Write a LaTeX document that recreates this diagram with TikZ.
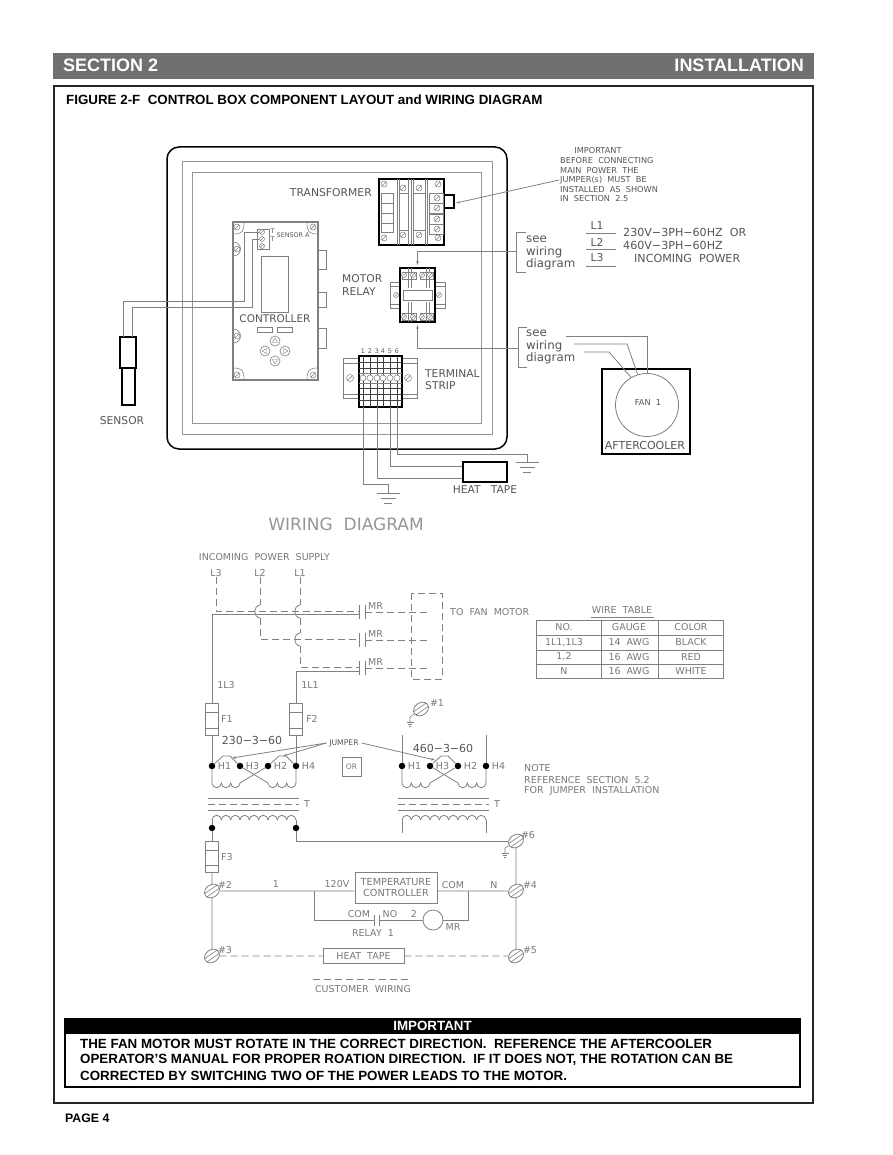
\documentclass[tikz,border=0pt]{standalone}
\usepackage{fontspec}
\setmainfont{Liberation Sans}
\newfontfamily\cadfont{DejaVu Sans}
\usetikzlibrary{arrows.meta,shapes.geometric}
\definecolor{headgray}{RGB}{112,112,112}
\definecolor{wiregray}{RGB}{128,128,128}
\definecolor{cadgray}{RGB}{85,85,85}
\definecolor{palegray}{RGB}{150,150,150}
\tikzset{
  wire/.style={draw=wiregray, line width=0.8pt},
  dashwire/.style={draw=wiregray, line width=0.8pt, dash pattern=on 7pt off 4pt},
  heavy/.style={draw=black, line width=1.5pt},
  thinpart/.style={draw=wiregray, line width=0.6pt},
  smalltip/.style={-{Stealth[length=4pt,width=2.5pt]}},
  cadlabel/.style={font=\cadfont\fontsize{10.7}{12}\selectfont, text=cadgray, inner sep=0pt},
  cadsmall/.style={font=\cadfont\fontsize{8.2}{10}\selectfont, text=cadgray, inner sep=0pt},
  cadtiny/.style={font=\cadfont\fontsize{6.4}{7}\selectfont, text=cadgray, inner sep=0pt},
  wirelabel/.style={font=\cadfont\fontsize{9.5}{11}\selectfont, text=palegray!80!black, inner sep=0pt},
  boldpage/.style={font=\bfseries\fontsize{13.35}{15}\selectfont, text=black, inner sep=0pt},
  headtext/.style={font=\bfseries\fontsize{18}{20}\selectfont, text=white, inner sep=0pt},
  partbox/.style={rectangle, fill=white, inner sep=0pt},
  fusebox/.style={rectangle, wire, fill=white, inner sep=0pt, minimum width=13pt, minimum height=32pt,
    path picture={\draw[wiregray,line width=0.7pt]
      ([yshift=-9pt]path picture bounding box.north west) -- ([yshift=-9pt]path picture bounding box.north east)
      ([yshift=7pt]path picture bounding box.south west) -- ([yshift=7pt]path picture bounding box.south east);}},
  hdot/.style={circle, fill=black, inner sep=0pt, minimum size=6.5pt},
  smallscrew/.style={circle, draw=wiregray, line width=0.5pt, fill=white, inner sep=0pt, minimum size=6pt,
    path picture={\draw[wiregray,line width=0.4pt] (path picture bounding box.south west) -- (path picture bounding box.north east);}},
  bigscrew/.style={ellipse, rotate=35, wire, fill=white, inner sep=0pt, minimum width=16pt, minimum height=12.5pt,
    path picture={\draw[wiregray,line width=0.6pt]
      ([shift={(-8pt,2pt)}]path picture bounding box.center) -- ([shift={(8pt,2pt)}]path picture bounding box.center)
      ([shift={(-8pt,-2pt)}]path picture bounding box.center) -- ([shift={(8pt,-2pt)}]path picture bounding box.center);}},
  earth/.pic={\draw[wire] (-11.5,0) -- (11.5,0) (-7.5,5.5) -- (7.5,5.5) (-4,10) -- (4,10);},
  minearth/.pic={\draw[thinpart] (-3.5,0) -- (3.5,0) (-2.3,2) -- (2.3,2) (-1,4) -- (1,4);},
}
\begin{document}
\begin{tikzpicture}[x=1pt,y=-1pt]
\useasboundingbox (0,0) rectangle (892,1155);

% Page header and frame
\node[fill=headgray, inner sep=0pt, minimum width=761pt, minimum height=26pt] (headbar) at (433.5,66) {};
\node[headtext, anchor=west] (headleft) at (63,65) {SECTION 2};
\node[headtext, anchor=east] (headright) at (804,65) {INSTALLATION};
\draw[draw=black!85, line width=1.2pt] (54,86) rectangle (813,1103);
\node[boldpage, anchor=west] (figtitle) at (66,100) {FIGURE 2-F\ \ CONTROL BOX COMPONENT LAYOUT and WIRING DIAGRAM};

% Enclosure
\draw[heavy, rounded corners=12pt] (167,147) rectangle (507,449);
\draw[draw=palegray, line width=1pt] (182,162) rectangle (492,434);
\draw[draw=palegray, line width=1pt] (192,173) rectangle (481,423);

% Controller
\draw[draw=wiregray, line width=1.3pt] (233,222) rectangle (318,380);
\foreach \a/\b in {250/269,292/307,328/348}{
  \draw[thinpart] (318,\a) -- (326,\a) -- (326,\b) -- (318,\b);
}
\draw[thinpart] (233,242) .. controls (243,242) and (243,256) .. (233,256);
\draw[thinpart] (233,329) .. controls (243,329) and (243,343) .. (233,343);
\draw[thinpart] (244,222) .. controls (244,232) and (242,234) .. (233,234);
\draw[thinpart] (307,222) .. controls (307,232) and (309,234) .. (318,234);
\draw[thinpart] (244,380) .. controls (244,370) and (242,368) .. (233,368);
\draw[thinpart] (307,380) .. controls (307,370) and (309,368) .. (318,368);
\foreach \n/\p in {a/{237,227},b/{313,227},c/{237,375},d/{313,375},e/{237,249},f/{237,336}}{
  \node[smallscrew] (cs\n) at (\p) {};
}
\node[partbox, draw=wiregray, line width=0.6pt, minimum width=12pt, minimum height=20pt] (cterm) at (263,239) {};
\foreach \n/\y in {1/232,2/239,3/246}{
  \node[smallscrew, minimum size=5pt] (ct\n) at (262,\y) {};
}
\node[cadtiny] (tone) at (272.5,231.5) {T};
\node[cadtiny] (ttwo) at (272.5,239) {T};
\node[cadtiny, anchor=west] (sensa) at (276.5,235) {SENSOR A};
\node[partbox, draw=wiregray, line width=0.6pt, minimum width=27pt, minimum height=56pt] (cdisplay) at (274.5,284) {};
\node[cadlabel, font=\cadfont\fontsize{10.5}{12}\selectfont] (ctrllbl) at (275,319) {CONTROLLER};
\node[draw=wiregray, line width=0.6pt, inner sep=0pt, minimum width=15pt, minimum height=5pt] (cleda) at (265,329.5) {};
\node[draw=wiregray, line width=0.6pt, inner sep=0pt, minimum width=15pt, minimum height=5pt] (cledb) at (284.5,329.5) {};
\foreach \n/\p/\r in {up/{275,341}/0,lf/{265,351}/90,rt/{285,351}/-90,dn/{275,361}/180}{
  \node[circle, draw=wiregray, line width=0.6pt, inner sep=0pt, minimum size=10pt] (btn\n) at (\p) {};
  \node[regular polygon, regular polygon sides=3, rotate=\r, draw=wiregray, line width=0.4pt, inner sep=0pt, minimum size=6pt] (tri\n) at (\p) {};
}

% Sensor
\node[partbox, draw=black, line width=1.1pt, minimum width=13pt, minimum height=39pt] (senstail) at (128.5,385.5) {};
\node[partbox, draw=black, line width=1.3pt, minimum width=16pt, minimum height=31pt] (sensbody) at (128,352.5) {};
\node[cadlabel] (senslbl) at (122,421) {SENSOR};
\coordinate (sw1) at (123,337);
\coordinate (sw2) at (132,337);
\draw[wire] (ct1.west) -- (244,232) -- (244,301) -- (123,301) -- (sw1);
\draw[wire] (ct2.west) -- (252,239) -- (252,307) -- (132,307) -- (sw2);

% Transformer
\node[partbox, heavy, minimum width=65pt, minimum height=66pt] (xfmr) at (411.5,212) {};
\draw[thinpart] (397,179) -- (397,245) (399,179) -- (399,245) (408,179) -- (408,245) (411,179) -- (411,245)
  (413,179) -- (413,245) (425,179) -- (425,245) (427,179) -- (427,245);
\draw[thinpart] (381,193) rectangle (393,232) (381,203) -- (393,203) (381,213) -- (393,213) (381,223) -- (393,223);
\draw[thinpart] (399,193) -- (408,193) (399,230) -- (408,230) (413,193) -- (425,193) (413,230) -- (425,230);
\foreach \y in {193,203,214,224}{
  \draw[thinpart] (429,\y) rectangle (443,\y+10);
}
\foreach \n/\p in {a/{384,184},b/{438,184},c/{384,238},d/{438,238},e/{403,188},f/{419,188},g/{403,235},h/{419,235},
  i/{437,198},j/{437,208},k/{437,219},l/{437,229}}{
  \node[smallscrew] (xs\n) at (\p) {};
}
\node[cadlabel, font=\cadfont\fontsize{10.8}{12}\selectfont, anchor=east] (xfmrlbl) at (372,193) {TRANSFORMER};
\coordinate (jumptip) at (456,203);
\draw[heavy] (444,195) -- (454,195) -- (454,208) -- (444,208);
\coordinate (notept) at (559,180);
\draw[wire, smalltip] (notept) -- (jumptip);
\node[cadsmall] (notehead) at (598,151) {IMPORTANT};
\foreach \n/\y/\t in {a/161/BEFORE\ \ CONNECTING,b/170.5/MAIN\ \ POWER\ \ THE,c/180/JUMPER(s)\ \ MUST\ \ BE,d/189.5/INSTALLED\ \ AS\ \ SHOWN,e/198.5/IN\ \ SECTION\ \ 2.5}{
  \node[cadsmall, anchor=west] (note\n) at (560,\y) {\t};
}

% Motor relay
\draw[thinpart] (390,282) rectangle (445,308) (390,286) -- (445,286) (390,304) -- (445,304);
\node[partbox, heavy, minimum width=35pt, minimum height=54pt] (relay) at (417.5,295) {};
\draw[thinpart] (403,290) rectangle (432,300);
\draw[thinpart] (402,272) rectangle (416,279) (420,272) rectangle (433,279) (402,313) rectangle (416,320) (420,313) rectangle (433,320);
\draw[thinpart] (408,268) -- (408,288) (411,268) -- (411,288) (426,268) -- (426,288) (429,268) -- (429,288)
  (408,302) -- (408,322) (411,302) -- (411,322) (426,302) -- (426,322) (429,302) -- (429,322);
\foreach \n/\p in {a/{396,295},b/{439,295},c/{404,275},d/{413,275},e/{422,275},f/{430,275},g/{404,317},h/{413,317},i/{422,317},j/{430,317}}{
  \node[smallscrew, minimum size=5pt] (rs\n) at (\p) {};
}
\node[cadlabel, anchor=west] (motorlbl) at (342,279) {MOTOR};
\node[cadlabel, anchor=west] (relaylbl) at (342,292) {RELAY};

% see wiring diagram brackets
\draw[wire] (526,232) -- (516,232) -- (516,272) -- (526,272);
\draw[wire] (527,327) -- (518,327) -- (518,367) -- (527,367);
\coordinate (seea) at (516,251);
\coordinate (seeb) at (518,348);
\draw[wire, smalltip, shorten >=2pt] (seea) -| (relay.north);
\draw[wire, smalltip, shorten >=2pt] (seeb) -| (relay.south);
\foreach \n/\y/\t in {a/239/see,b/252/wiring,c/264.5/diagram,d/333/see,e/346/wiring,f/358.5/diagram}{
  \node[cadlabel, font=\cadfont\fontsize{11.8}{12}\selectfont, anchor=west] (see\n) at (526,\y) {\t};
}

% Incoming power
\foreach \n/\y/\u in {1/226/233,2/242/249,3/258/266}{
  \node[cadlabel, font=\cadfont\fontsize{10.8}{12}\selectfont] (ltxt\n) at (597,\y) {L\n};
  \draw[wire] (586,\u) -- (616,\u);
}
\node[cadlabel, font=\cadfont\fontsize{11.1}{12}\selectfont, anchor=west] (voltA) at (623,232) {230V−3PH−60HZ\ \ OR};
\node[cadlabel, font=\cadfont\fontsize{11.1}{12}\selectfont, anchor=west] (voltB) at (623,245) {460V−3PH−60HZ};
\node[cadlabel, font=\cadfont\fontsize{11.1}{12}\selectfont, anchor=west] (voltC) at (634,258.5) {INCOMING\ \ POWER};

% Aftercooler
\node[partbox, heavy, minimum width=88pt, minimum height=85pt] (acbox) at (646,411.5) {};
\node[circle, wire, inner sep=0pt, minimum size=63pt] (fan) at (647,405) {};
\node[cadsmall] (fanlbl) at (648,403) {FAN\ \ 1};
\node[cadlabel, font=\cadfont\fontsize{11}{12}\selectfont] (aclbl) at (645,445) {AFTERCOOLER};
\coordinate (acwa) at (566,336);
\coordinate (acwb) at (574,344);
\coordinate (acwc) at (584,352);
\draw[wire] (acwa) -- (647,336) -- (fan.north);
\draw[wire] (acwb) -- (627,344) -- (fan.107);
\draw[wire] (acwc) -- (609,352) -- (fan.120);

% Terminal strip
\draw[thinpart] (343,358) rectangle (417,398) (343,363) -- (417,363) (343,394) -- (417,394);
\node[smallscrew, minimum size=7pt] (tsa) at (350,378) {};
\node[smallscrew, minimum size=7pt] (tsb) at (408,378) {};
\node[partbox, heavy, minimum width=43pt, minimum height=51pt] (tstrip) at (380.5,381.5) {};
\foreach \n/\x in {1/363,2/370,3/377,4/383,5/390,6/397}{
  \node[cadtiny] (tnum\n) at (\x,351) {\n};
  \draw[draw=black!75, line width=0.6pt] (\x,356) -- (\x,407);
  \node[circle, draw=wiregray, line width=0.5pt, fill=white, inner sep=0pt, minimum size=6pt] (tc\n) at (\x,378) {};
}
\draw[draw=black!75, line width=0.6pt] (359,362) -- (402,362) (359,368) -- (402,368) (359,388) -- (402,388) (359,394) -- (402,394) (359,400) -- (402,400);
\draw[draw=wiregray, line width=0.5pt] (359,373) -- (402,373) (359,383) -- (402,383);
\node[cadlabel, anchor=west] (termlbl) at (425,373.5) {TERMINAL};
\node[cadlabel, anchor=west] (striplbl) at (425,386) {STRIP};

% Wires below the strip
\node[partbox, heavy, minimum width=44pt, minimum height=20pt] (hbox) at (485,472) {};
\node[cadlabel] (hboxlbl) at (485,490) {HEAT\ \ \ TAPE};
\coordinate (twa) at (363,407);
\coordinate (twb) at (377,407);
\coordinate (twc) at (390,407);
\coordinate (twd) at (397,407);
\coordinate (gnda) at (388,493);
\coordinate (gndb) at (527,462);
\draw[wire] (twa) -- (363,484) -| (gnda);
\draw[wire] (twb) |- ([yshift=-6pt]hbox.west);
\draw[wire] (twc) |- ([yshift=6pt]hbox.west);
\draw[wire] (twd) -- (397,454) -| (gndb);
\pic at (gnda) {earth};
\pic at (gndb) {earth};
\node[font=\cadfont\fontsize{17}{20}\selectfont, text=palegray, inner sep=0pt] (wdtitle) at (346,524) {WIRING\ \ DIAGRAM};

% Wiring diagram, incoming lines
\node[wirelabel] (supply) at (264.5,557) {INCOMING\ \ POWER\ \ SUPPLY};
\node[wirelabel] (lthree) at (216,573) {L3};
\node[wirelabel] (ltwo) at (260,573) {L2};
\node[wirelabel] (lone) at (300,573) {L1};
\foreach \n/\y in {a/612,b/640,c/668}{
  \coordinate (ca\n) at (359,\y);
  \coordinate (cl\n) at (359,\y-1);
  \coordinate (cb\n) at (365,\y);
  \draw[wire] (ca\n) ++(0,-7) -- ++(0,14);
  \draw[wire] (cb\n) ++(0,-7) -- ++(0,14);
  \coordinate (fm\n) at (427,\y);
  \draw[dashwire] (cb\n) -- (fm\n);
  \node[wirelabel, anchor=west] (mr\n) at (368,\y-6) {MR};
}
\coordinate (solida) at (359,614);
\coordinate (solidc) at (359,671);
\draw[dashwire] (lthree.south) |- (cla);
\draw[dashwire] (ltwo.south) -- (260,605);
\draw[wire] (260,605) .. controls (253,606) and (253,617) .. (260,618);
\draw[dashwire] (260,618) |- (clb);
\draw[dashwire] (lone.south) -- (300,605);
\draw[wire] (300,605) .. controls (293,606) and (293,617) .. (300,618);
\draw[dashwire] (300,618) -- (300,633);
\draw[wire] (300,633) .. controls (293,634) and (293,645) .. (300,646);
\draw[dashwire] (300,646) |- (clc);
\draw[dashwire] (411,593) rectangle (442,679);
\node[wirelabel, anchor=west] (fanmotor) at (450,612) {TO\ \ FAN\ \ MOTOR};

% Fuses and transformer windings
\node[fusebox] (fone) at (212,719) {};
\node[fusebox] (ftwo) at (296,719) {};
\node[wirelabel] (fonelbl) at (227,719) {F1};
\node[wirelabel] (ftwolbl) at (312,719) {F2};
\node[wirelabel] (wlthree) at (226,685) {1L3};
\node[wirelabel] (wlone) at (310,685) {1L1};
\draw[wire] (solida) -| (fone.north);
\draw[wire] (solidc) -| (ftwo.north);
\foreach \xo/\tag in {0/a,190/b}{
  \foreach \n/\x in {1/212,3/240,2/268,4/296}{
    \node[hdot] (h\n\tag) at (\x+\xo,766) {};
    \node[wirelabel] (ht\n\tag) at (\x+\xo+12.5,766) {H\n};
  }
  \draw[wire] (h1\tag) -- (212+\xo,783) arc[start angle=180,end angle=0,radius=4.67] arc[start angle=180,end angle=0,radius=4.67]
    arc[start angle=180,end angle=0,radius=4.67] -- (h2\tag);
  \draw[wire] (h3\tag) -- (268+\xo,783) arc[start angle=180,end angle=0,radius=4.67] arc[start angle=180,end angle=0,radius=4.67]
    arc[start angle=180,end angle=0,radius=4.67] -- (h4\tag);
  \draw[wire] (208+\xo,798) -- (299+\xo,798) (208+\xo,810) -- (299+\xo,810);
  \draw[dashwire] (208+\xo,804) -- (299+\xo,804);
  \node[wirelabel] (tlbl\tag) at (307+\xo,804) {T};
  \foreach \k in {0,...,8}{
    \draw[wire] (212+\xo+9.33*\k,820) arc[start angle=180,end angle=360,radius=4.67];
  }
}
\draw[wire] (fone.south) -- (h1a);
\draw[wire] (ftwo.south) -- (h4a);
\draw[wire] (h1a) -- (223,756) -- (230,756) -- (h3a);
\draw[wire] (h2a) -- (279,756) -- (286,756) -- (h4a);
\draw[wire] (h3b) -- (441,756) -- (448,756) -- (h2b);
\draw[wire] (h1b) -- (402,735);
\draw[wire] (h4b) -- (486,735);
\node[cadlabel, font=\cadfont\fontsize{11}{12}\selectfont] (vlo) at (252,740) {230−3−60};
\node[cadlabel, font=\cadfont\fontsize{11}{12}\selectfont] (vhi) at (443,748) {460−3−60};
\node[cadsmall, font=\cadfont\fontsize{7.7}{8}\selectfont, outer sep=3pt] (jumplbl) at (344,743) {JUMPER};
\coordinate (jtipa) at (232,758);
\coordinate (jtipb) at (283,756);
\coordinate (jtipc) at (435,760);
\draw[wire, smalltip] (jumplbl.west) -- (jtipa);
\draw[wire, smalltip] (jumplbl.west) -- (jtipb);
\draw[wire, smalltip] (jumplbl.east) -- (jtipc);
\node[draw=wiregray, line width=0.8pt, inner sep=0pt, minimum size=19pt, font=\cadfont\fontsize{7.5}{9}\selectfont, text=palegray!80!black] (orbox) at (351.5,767) {OR};
\node[hdot] (seca) at (212,828) {};
\node[hdot] (secb) at (296,828) {};
\draw[wire] (212,820) -- (seca) (296,820) -- (secb);
\draw[wire] (402,820) -- (402,833) (486,820) -- (486,833);

% Note and wire table
\foreach \n/\y/\t in {a/768/NOTE,b/780/REFERENCE\ \ SECTION\ \ 5.2,c/791/FOR\ \ JUMPER\ \ INSTALLATION}{
  \node[wirelabel, anchor=west] (nt\n) at (524,\y) {\t};
}
\node[wirelabel] (wtitle) at (622,610) {WIRE\ \ TABLE};
\draw[wire] (591,617) -- (654,617);
\draw[wire] (536,620) rectangle (723,678) (536,635) -- (723,635) (536,650) -- (723,650) (536,664) -- (723,664) (601,620) -- (601,678) (658,620) -- (658,678);
\foreach \n/\y/\a/\b/\c in {a/627.5/NO./GAUGE/COLOR,b/642.5/{1L1,1L3}/14\ \ AWG/BLACK,c/657/{1,2}/16\ \ AWG/RED,d/671/N/16\ \ AWG/WHITE}{
  \node[wirelabel] (tna\n) at (564,\y) {\a};
  \node[wirelabel] (tnb\n) at (629,\y) {\b};
  \node[wirelabel] (tnc\n) at (691,\y) {\c};
}

% Control circuit
\node[fusebox, minimum height=31pt] (fthree) at (212,856.5) {};
\node[wirelabel] (fthreelbl) at (227,857) {F3};
\node[partbox, wire, minimum width=82pt, minimum height=31pt] (tempctrl) at (396,887.5) {};
\node[wirelabel, align=center, font=\cadfont\fontsize{9.7}{11}\selectfont] (templbl) at (396,887.5) {TEMPERATURE\\CONTROLLER};
\node[partbox, wire, minimum width=81pt, minimum height=15pt] (htape) at (363.5,956) {};
\node[wirelabel] (htapelbl) at (363.5,956) {HEAT\ \ TAPE};
\node[circle, wire, inner sep=0pt, minimum size=20pt] (mrcoil) at (433,920) {};
\foreach \n/\p in {one/{421,709},two/{212,891},three/{212,956},four/{516,891},five/{516,956},six/{516,841}}{
  \node[bigscrew] (s\n) at (\p) {};
}
\node[wirelabel] (hashone) at (437,703) {\#1};
\node[wirelabel] (hashtwo) at (225,885) {\#2};
\node[wirelabel] (hashthree) at (225,950) {\#3};
\node[wirelabel] (hashfour) at (530,885) {\#4};
\node[wirelabel] (hashfive) at (530,950) {\#5};
\node[wirelabel] (hashsix) at (528,835) {\#6};
\draw[wire] (seca) -- (fthree.north);
\draw[wire] (fthree.south) -- (stwo);
\draw[wire] (stwo) -- (sthree);
\draw[wire] (secb) |- (ssix);
\draw[wire] (ssix) -- (sfour);
\draw[wire] (sfour) -- (sfive);
\draw[wire] (stwo) -- (stwo -| tempctrl.west);
\draw[wire] (sfour -| tempctrl.east) -- (sfour);
\coordinate (brl) at (314,891);
\coordinate (brr) at (468,891);
\coordinate (rca) at (374,920);
\coordinate (rcb) at (379,920);
\draw[wire] (brl) |- (rca);
\draw[wire] (rca) ++(0,-5) -- ++(0,11);
\draw[wire] (rcb) ++(0,-5) -- ++(0,11);
\draw[wire] (rcb) -- (mrcoil.west);
\draw[wire] (mrcoil.east) -| (brr);
\draw[dashwire] (sthree) -- (htape.west);
\draw[dashwire] (htape.east) -- (sfive);
\coordinate (gsone) at (410,722);
\coordinate (gssix) at (505,853);
\draw[thinpart] (sone) -- (410,717) -- (gsone);
\draw[thinpart] (ssix) -- (505,848) -- (gssix);
\pic at (gsone) {minearth};
\pic at (gssix) {minearth};
\node[wirelabel] (wone) at (276,884) {1};
\node[wirelabel] (wvolt) at (337,884.5) {120V};
\node[wirelabel] (wcom) at (453,885) {COM};
\node[wirelabel] (wn) at (494,885) {N};
\node[wirelabel] (rcom) at (359,914) {COM};
\node[wirelabel] (rno) at (390,914) {NO};
\node[wirelabel] (rtwo) at (414,914) {2};
\node[wirelabel] (rlbl) at (373,933) {RELAY\ \ 1};
\node[wirelabel] (mrlbl) at (453,927) {MR};
\coordinate (cusa) at (313,979);
\coordinate (cusb) at (412,979);
\draw[dashwire] (cusa) -- (cusb);
\node[wirelabel] (cuslbl) at (363,989) {CUSTOMER\ \ WIRING};

% Important box
\draw[draw=black, line width=2.4pt] (65,1019) rectangle (800,1087);
\node[fill=black, text=white, font=\bfseries\fontsize{13.35}{15}\selectfont, inner sep=0pt, minimum width=736pt, minimum height=16pt] (impbar) at (432.5,1026) {IMPORTANT};
\node[boldpage, anchor=west] (impa) at (80,1044) {THE FAN MOTOR MUST ROTATE IN THE CORRECT DIRECTION.\ \ REFERENCE THE AFTERCOOLER};
\node[boldpage, anchor=west] (impb) at (80,1060) {OPERATOR'S MANUAL FOR PROPER ROATION DIRECTION.\ \ IF IT DOES NOT, THE ROTATION CAN BE};
\node[boldpage, anchor=west] (impc) at (80,1076) {CORRECTED BY SWITCHING TWO OF THE POWER LEADS TO THE MOTOR.};
\node[boldpage, font=\bfseries\fontsize{12.3}{15}\selectfont, anchor=west] (pagenum) at (65,1118) {PAGE 4};
\end{tikzpicture}
\end{document}
